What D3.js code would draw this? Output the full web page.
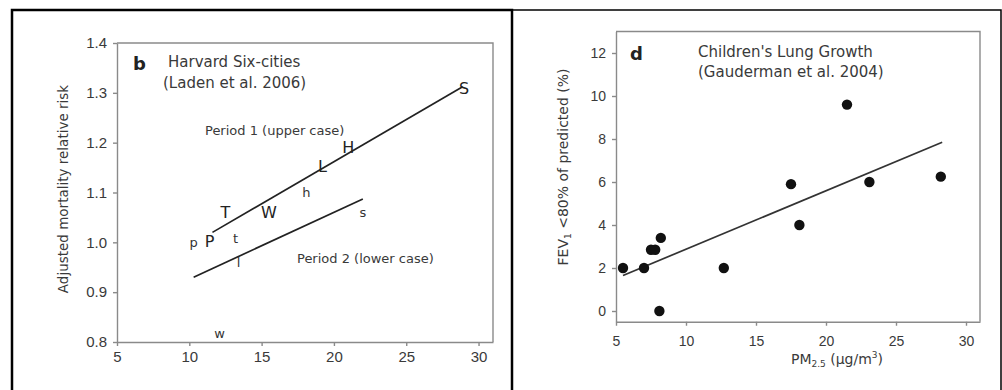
<!DOCTYPE html>
<html>
<head>
<meta charset="utf-8">
<script src="https://cdn.jsdelivr.net/npm/d3@7"></script>
<style>
  body { margin: 0; background: #fff; }
  svg { display: block; font-family: "DejaVu Sans", "Liberation Sans", sans-serif; }
  .axis path, .axis line { stroke: #8a8a8a; stroke-width: 1.4; }
  .axis text { fill: #3a3a3a; }
</style>
</head>
<body>
<div id="chart"></div>
<script>
const width = 1002;
const height = 390;

// Panel b: Harvard Six-cities (letters are the data marks)
const upperLabels = ["P", "T", "W", "L", "H", "S"];
const upperX = [11.4, 12.5, 15.5, 19.2, 21.0, 29.0];
const upperY = [1.003, 1.061, 1.06, 1.152, 1.19, 1.31];

const lowerLabels = ["p", "t", "l", "w", "h", "s"];
const lowerX = [10.3, 13.2, 13.4, 12.1, 18.1, 22.0];
const lowerY = [1.0, 1.009, 0.96, 0.818, 1.10, 1.06];

const period1Fit = [[11.6, 1.02], [28.9, 1.312]];
const period2Fit = [[10.3, 0.93], [22.0, 1.087]];

const bXTicks = [5, 10, 15, 20, 25, 30];
const bYTicks = [0.8, 0.9, 1.0, 1.1, 1.2, 1.3, 1.4];

// Panel d: Children's Lung Growth
const pmX = [5.5, 7.0, 7.5, 7.8, 8.2, 8.1, 12.7, 17.5, 18.1, 21.5, 23.1, 28.2];
const fevY = [2.0, 2.0, 2.85, 2.85, 3.4, 0, 2.0, 5.9, 4.0, 9.6, 6.0, 6.25];
const lungFit = [[5.5, 1.65], [28.3, 7.85]];

const dXTicks = [5, 10, 15, 20, 25, 30];
const dYTicks = [0, 2, 4, 6, 8, 10, 12];

const svg = d3.select("#chart").append("svg")
    .attr("width", width)
    .attr("height", height);

// outer frames
svg.append("rect")
    .attr("x", 12).attr("y", 10)
    .attr("width", 500).attr("height", 385)
    .attr("fill", "none").attr("stroke", "#000").attr("stroke-width", 2.5);
svg.append("path")
    .attr("d", "M512,10H1001V395")
    .attr("fill", "none").attr("stroke", "#000").attr("stroke-width", 1.5);

// ---------- panel b ----------
const xb = d3.scaleLinear().domain([5, 31]).range([117, 493]);
const yb = d3.scaleLinear().domain([0.8, 1.4]).range([342, 43]);

const gb = svg.append("g");

gb.append("path")
    .attr("d", `M${xb(5)},${yb(1.4)}H${xb(31)}V${yb(0.8)}`)
    .attr("fill", "none").attr("stroke", "#8a8a8a").attr("stroke-width", 1.4);

gb.append("g").attr("class", "axis")
    .attr("transform", `translate(0,${yb(0.8)})`)
    .call(d3.axisBottom(xb).tickValues(bXTicks).tickSize(4).tickPadding(5).tickSizeOuter(0))
    .call((g) => g.selectAll("text").attr("font-size", 15));

gb.append("g").attr("class", "axis")
    .attr("transform", `translate(${xb(5)},0)`)
    .call(d3.axisLeft(yb).tickValues(bYTicks).tickFormat(d3.format(".1f")).tickSize(4).tickPadding(6).tickSizeOuter(0))
    .call((g) => g.selectAll("text").attr("font-size", 15));

gb.append("text")
    .attr("transform", "rotate(-90)")
    .attr("x", -189).attr("y", 68)
    .attr("text-anchor", "middle")
    .attr("font-size", 13.5).attr("fill", "#3a3a3a")
    .text("Adjusted mortality relative risk");

gb.append("text").attr("x", 133).attr("y", 70)
    .attr("font-size", 18).attr("font-weight", "bold").attr("fill", "#222").text("b");
gb.append("text").attr("x", 168).attr("y", 67)
    .attr("font-size", 15).attr("fill", "#3a3a3a").text("Harvard Six-cities");
gb.append("text").attr("x", 163).attr("y", 88)
    .attr("font-size", 15).attr("fill", "#3a3a3a").text("(Laden et al. 2006)");

gb.append("text").attr("x", 205).attr("y", 135)
    .attr("font-size", 13).attr("fill", "#3a3a3a").text("Period 1 (upper case)");
gb.append("text").attr("x", 297).attr("y", 263)
    .attr("font-size", 13).attr("fill", "#3a3a3a").text("Period 2 (lower case)");

const lineB = d3.line().x((d) => xb(d[0])).y((d) => yb(d[1]));
[period1Fit, period2Fit].forEach((fit) => {
    gb.append("path").attr("d", lineB(fit))
        .attr("fill", "none").attr("stroke", "#222").attr("stroke-width", 1.7);
});

gb.selectAll("text.upper")
    .data(upperLabels)
    .join("text")
    .attr("class", "upper")
    .attr("x", (d, i) => xb(upperX[i]))
    .attr("y", (d, i) => yb(upperY[i]))
    .attr("dy", "0.36em")
    .attr("text-anchor", "middle")
    .attr("font-size", 16).attr("fill", "#222")
    .text((d) => d);

gb.selectAll("text.lower")
    .data(lowerLabels)
    .join("text")
    .attr("class", "lower")
    .attr("x", (d, i) => xb(lowerX[i]))
    .attr("y", (d, i) => yb(lowerY[i]))
    .attr("dy", "0.36em")
    .attr("text-anchor", "middle")
    .attr("font-size", 13).attr("fill", "#333")
    .text((d) => d);

// ---------- panel d ----------
const xd = d3.scaleLinear().domain([5, 31]).range([616, 980]);
const yd = d3.scaleLinear().domain([-0.5, 13]).range([321.75, 31.5]);

const gd = svg.append("g");

gd.append("path")
    .attr("d", `M${xd(5)},${yd(13)}H${xd(31)}V${yd(-0.5)}`)
    .attr("fill", "none").attr("stroke", "#8a8a8a").attr("stroke-width", 1.4);

gd.append("g").attr("class", "axis")
    .attr("transform", `translate(0,${yd(-0.5)})`)
    .call(d3.axisBottom(xd).tickValues(dXTicks).tickSize(4).tickPadding(10).tickSizeOuter(0))
    .call((g) => g.selectAll("text").attr("font-size", 14));

gd.append("g").attr("class", "axis")
    .attr("transform", `translate(${xd(5)},0)`)
    .call(d3.axisLeft(yd).tickValues(dYTicks).tickSize(4).tickPadding(6).tickSizeOuter(0))
    .call((g) => g.selectAll("text").attr("font-size", 14));

const yTitle = gd.append("text")
    .attr("transform", "rotate(-90)")
    .attr("x", -167).attr("y", 568)
    .attr("text-anchor", "middle")
    .attr("font-size", 14).attr("fill", "#3a3a3a");
yTitle.append("tspan").text("FEV");
yTitle.append("tspan").attr("font-size", 9).attr("dy", 3).text("1");
yTitle.append("tspan").attr("dy", -3).text(" <80% of predicted (%)");

const xTitle = gd.append("text")
    .attr("x", 837).attr("y", 364)
    .attr("text-anchor", "middle")
    .attr("font-size", 14).attr("fill", "#3a3a3a");
xTitle.append("tspan").text("PM");
xTitle.append("tspan").attr("font-size", 9).attr("dy", 3).text("2.5");
xTitle.append("tspan").attr("dy", -3).text(" (\u00b5g/m");
xTitle.append("tspan").attr("font-size", 9).attr("dy", -6).text("3");
xTitle.append("tspan").attr("dy", 6).text(")");

gd.append("text").attr("x", 630).attr("y", 60)
    .attr("font-size", 18).attr("font-weight", "bold").attr("fill", "#222").text("d");
gd.append("text").attr("x", 698).attr("y", 57)
    .attr("font-size", 15).attr("fill", "#3a3a3a").text("Children's Lung Growth");
gd.append("text").attr("x", 698).attr("y", 77)
    .attr("font-size", 15).attr("fill", "#3a3a3a").text("(Gauderman et al. 2004)");

const lineD = d3.line().x((d) => xd(d[0])).y((d) => yd(d[1]));
gd.append("path").attr("d", lineD(lungFit))
    .attr("fill", "none").attr("stroke", "#333").attr("stroke-width", 1.7);

gd.selectAll("circle")
    .data(pmX)
    .join("circle")
    .attr("cx", (d) => xd(d))
    .attr("cy", (d, i) => yd(fevY[i]))
    .attr("r", 5.2)
    .attr("fill", "#111");
</script>
</body>
</html>
